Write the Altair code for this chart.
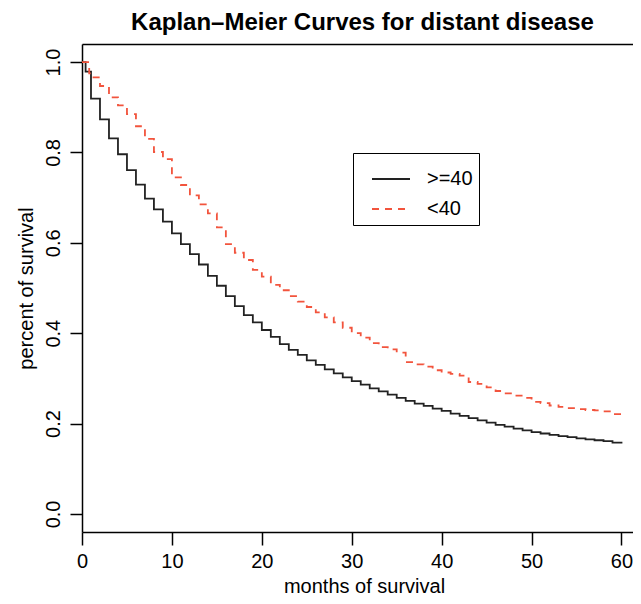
import altair as alt
import pandas as pd

# ---- data ----
groups = [">=40", "<40"]

months_old = [0, 0.4] + list(range(1, 61))
surv_old = [1.0, 0.979,
            0.919, 0.873, 0.831, 0.796, 0.761, 0.729, 0.698, 0.674, 0.647, 0.621,
            0.597, 0.575, 0.552, 0.527, 0.505, 0.482, 0.460, 0.440, 0.424, 0.407,
            0.392, 0.376, 0.363, 0.352, 0.340, 0.330, 0.320, 0.311, 0.302, 0.294,
            0.286, 0.278, 0.271, 0.264, 0.257, 0.250, 0.244, 0.239, 0.233, 0.228,
            0.222, 0.217, 0.212, 0.207, 0.202, 0.197, 0.193, 0.189, 0.185, 0.181,
            0.178, 0.175, 0.172, 0.170, 0.167, 0.165, 0.163, 0.161, 0.158, 0.156]

months_young = [0, 0.8] + list(range(1, 61))
surv_young = [1.0, 0.975,
              0.966, 0.947, 0.922, 0.904, 0.885, 0.858, 0.830, 0.801, 0.785, 0.745,
              0.728, 0.705, 0.685, 0.665, 0.634, 0.597, 0.578, 0.562, 0.540, 0.525,
              0.507, 0.495, 0.482, 0.470, 0.458, 0.446, 0.435, 0.424, 0.412, 0.400,
              0.390, 0.378, 0.369, 0.364, 0.357, 0.336, 0.331, 0.326, 0.318, 0.313,
              0.310, 0.306, 0.292, 0.288, 0.280, 0.272, 0.267, 0.262, 0.257, 0.248,
              0.245, 0.240, 0.237, 0.234, 0.232, 0.230, 0.229, 0.227, 0.221, 0.213]

x_ticks = [0, 10, 20, 30, 40, 50, 60]
y_ticks = [0.0, 0.2, 0.4, 0.6, 0.8, 1.0]

df = pd.concat([
    pd.DataFrame({"month": months_old, "survival": surv_old, "group": groups[0]}),
    pd.DataFrame({"month": months_young, "survival": surv_young, "group": groups[1]}),
], ignore_index=True)

FONT = "Liberation Sans"
W, H = 551, 488

xscale = alt.Scale(domain=[0, 61.28], nice=False, zero=False)
yscale = alt.Scale(domain=[-0.04, 1.04], nice=False, zero=False)

lines = alt.Chart(df).mark_line(interpolate="step-after", strokeWidth=1.8).encode(
    x=alt.X("month:Q", scale=xscale,
            axis=alt.Axis(values=x_ticks, title="months of survival", tickSize=13,
                          labelPadding=6, labelFlush=False, labelOverlap=False,
                          titleX=282, titleY=60, titleAlign="center",
                          titleBaseline="alphabetic")),
    y=alt.Y("survival:Q", scale=yscale,
            axis=alt.Axis(values=y_ticks, format=".1f", title="percent of survival",
                          tickSize=12, labelPadding=7, labelAngle=270,
                          labelAlign="center", labelBaseline="bottom",
                          labelFlush=False, labelOverlap=False,
                          titleAngle=270, titleX=-50, titleY=H / 2,
                          titleAlign="center", titleBaseline="alphabetic")),
    color=alt.Color("group:N", scale=alt.Scale(domain=groups, range=["#222222", "#f2543d"]),
                    legend=alt.Legend(title=None, orient="none", legendX=271, legendY=109,
                                      strokeColor="black", padding=6, symbolOffset=12,
                                      symbolType="stroke", symbolSize=1444,
                                      symbolStrokeWidth=1.8, labelFontSize=20,
                                      labelFont=FONT, labelColor="black",
                                      labelOffset=16, rowPadding=-13)),
    strokeDash=alt.StrokeDash("group:N", scale=alt.Scale(domain=groups, range=[[1, 0], [7, 6]]),
                              legend=alt.Legend(title=None, orient="none", legendX=271, legendY=109)),
)

top_border = alt.Chart(df).mark_line(opacity=0).encode(
    x=alt.X("month:Q", scale=xscale,
            axis=alt.Axis(orient="top", labels=False, ticks=False, title=None,
                          minExtent=0, maxExtent=0)),
    y=alt.Y("survival:Q", scale=yscale, axis=None),
)

chart = alt.layer(lines, top_border).resolve_axis(x="independent", y="independent").properties(
    width=W, height=H,
    title=alt.TitleParams("Kaplan–Meier Curves for distant disease", fontSize=24,
                          fontWeight="bold", font=FONT, color="black",
                          offset=9, anchor="middle", dx=5),
    autosize=alt.AutoSizeParams(type="none"),
    padding={"left": 74, "top": 36, "right": 0, "bottom": 64},
    background="white",
).configure_view(stroke=None).configure_axis(
    domainColor="black", domainWidth=1.5, tickColor="black", tickWidth=1.5,
    labelFont=FONT, labelFontSize=20, labelColor="black",
    titleFont=FONT, titleFontSize=20, titleFontWeight="normal", titleColor="black",
    grid=False,
)

chart.save("out.html", embed_options={"renderer": "svg", "actions": False})
